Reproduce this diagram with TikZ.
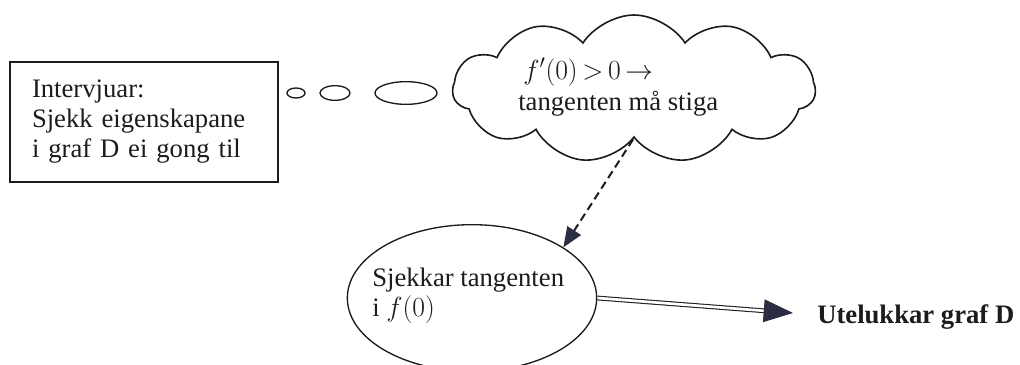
\documentclass[tikz,border=0pt]{standalone}
\usepackage{fontspec}
\setmainfont{Liberation Serif}
\usetikzlibrary{shapes.symbols,shapes.geometric,arrows.meta}
\definecolor{ink}{HTML}{1C1C1C}
\definecolor{headc}{HTML}{2B2E40}
\begin{document}
\begin{tikzpicture}[x=0.75pt,y=-0.75pt,
  every node/.style={font=\fontsize{20}{22.5}\selectfont, text=ink},
  box/.style={draw=ink, line width=1.6pt, minimum width=201pt, minimum height=90pt, inner sep=0pt, text width=168pt, align=left},
  bubble/.style={draw=ink, ellipse, line width=1pt, inner sep=0pt},
  thought/.style={draw=ink, cloud, cloud puffs=11, cloud puff arc=115, cloud ignores aspect, line width=1.2pt, minimum width=272pt, minimum height=111pt, inner sep=0pt},
  oval/.style={draw=ink, ellipse, line width=1pt, minimum width=187pt, minimum height=110pt, inner sep=0pt},
  lbl/.style={anchor=base west, inner sep=0pt},
  dasharrow/.style={draw=ink, line width=1.5pt, dash pattern=on 6pt off 3.5pt, -{Triangle[length=15pt,width=12pt,color=headc]}},
  dblarrow/.style={draw=ink, double=white, line width=0.8pt, double distance=2pt, -{Triangle[length=22pt,width=17pt,color=headc]}}
]
\useasboundingbox (0,0) rectangle (1020,364);
\fill[white] (0,0) rectangle (1020,364);
\node[box] (iv) at (144,122) {Intervjuar:\\Sjekk eigenskapane\\i graf D ei gong til};
\node[bubble, minimum width=13.5pt, minimum height=7.5pt] (b1) at (296,93) {};
\node[bubble, minimum width=22.5pt, minimum height=11pt] (b2) at (335,93) {};
\node[bubble, minimum width=46.5pt, minimum height=17pt] (b3) at (406,93) {};
\node[thought] (cl) at (634,89) {};
\node[lbl] (t1) at (523,79) {$f'(0)\,{>}\,0\,{\rightarrow}$};
\node[lbl] (t2) at (518,110) {tangenten må stiga};
\node[oval] (el) at (472,298) {};
\node[lbl] (s1) at (372,286) {Sjekkar tangenten};
\node[lbl] (s2) at (372,316) {i $f(0)$};
\node[lbl, font=\fontsize{20}{22.5}\selectfont\bfseries] (ut) at (817,323) {Utelukkar graf D};
\coordinate (tipD) at (793,313);
\draw[dasharrow] (cl.-91) -- (el.29);
\draw[dblarrow] (el.east) -- (tipD);
\end{tikzpicture}
\end{document}
